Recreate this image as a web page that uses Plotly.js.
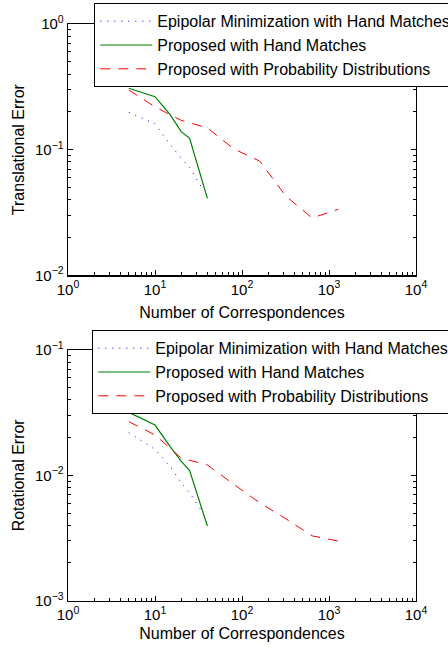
<!DOCTYPE html>
<html>
<head>
<meta charset="utf-8">
<script src="https://cdn.plot.ly/plotly-3.0.1.min.js"></script>
<style>
html,body{margin:0;padding:0;background:#fff;}
#chart{width:448px;height:647px;}
</style>
</head>
<body>
<div id="chart"></div>
<script>
// ---- data ----
var seriesNames = ["Epipolar Minimization with Hand Matches", "Proposed with Hand Matches", "Proposed with Probability Distributions"];

var epiX = [5, 10, 15, 20, 25, 35];
var handX = [5, 10, 15, 20, 25, 40];
var probX = [5, 10, 20, 40, 80, 160, 320, 640, 1280];

// Translational error
var transEpi  = [0.198, 0.161, 0.1095, 0.0853, 0.0723, 0.0489];
var transHand = [0.308, 0.264, 0.189, 0.139, 0.123, 0.041];
var transProb = [0.298, 0.219, 0.171, 0.149, 0.1016, 0.081, 0.0426, 0.0286, 0.0335];

// Rotational error
var rotEpi  = [0.0219, 0.01614, 0.01172, 0.00873, 0.00728, 0.0051];
var rotHand = [0.0318, 0.0252, 0.0169, 0.0130, 0.0109, 0.00394];
var rotProb = [0.0268, 0.0210, 0.01374, 0.01210, 0.00850, 0.00604, 0.00450, 0.00329, 0.00299];

var xTickVals = [1, 10, 100, 1000, 10000];
var xTickText = ["10<sup>0</sup>", "10<sup>1</sup>", "10<sup>2</sup>", "10<sup>3</sup>", "10<sup>4</sup>"];
var yTopTickVals = [0.01, 0.1, 1];
var yTopTickText = ["10<sup>−2</sup>", "10<sup>−1</sup>", "10<sup>0</sup>"];
var yBotTickVals = [0.001, 0.01, 0.1];
var yBotTickText = ["10<sup>−3</sup>", "10<sup>−2</sup>", "10<sup>−1</sup>"];

var xLabel = "Number of Correspondences";
var yTopLabel = "Translational Error";
var yBotLabel = "Rotational Error";

// ---- styles ----
var FONT = "Liberation Sans, Arial, Helvetica, sans-serif";
var lineStyles = [
  {color: "#0000ff", width: 1, dash: "1px,6px"},
  {color: "#008000", width: 1.2, dash: "solid"},
  {color: "#ff0000", width: 1, dash: "10px,8px"}
];

function tr(x, y, i, xa, ya, leg) {
  return {x: x, y: y, type: "scatter", mode: "lines", name: seriesNames[i],
          line: lineStyles[i], xaxis: xa, yaxis: ya, legend: leg, showlegend: true};
}

var data = [
  tr(epiX, transEpi, 0, "x", "y", "legend"),
  tr(handX, transHand, 1, "x", "y", "legend"),
  tr(probX, transProb, 2, "x", "y", "legend"),
  tr(epiX, rotEpi, 0, "x2", "y2", "legend2"),
  tr(handX, rotHand, 1, "x2", "y2", "legend2"),
  tr(probX, rotProb, 2, "x2", "y2", "legend2")
];

var W = 448, H = 647;
var xDom = [68 / W, 416 / W];
var yTopDom = [(H - 275.3) / H, (H - 24) / H];
var yBotDom = [(H - 600.7) / H, (H - 350) / H];

function xAxis(anchor, standoff) {
  return {type: "log", range: [0, 4], domain: xDom, anchor: anchor,
    tickmode: "array", tickvals: xTickVals, ticktext: xTickText,
    ticks: "inside", ticklen: 5, tickwidth: 1, tickcolor: "#000",
    minor: {ticks: "inside", ticklen: 3, tickcolor: "#000", dtick: "D1", showgrid: false},
    showline: true, linecolor: "#000", linewidth: 1.3, mirror: "ticks",
    showgrid: false, zeroline: false,
    tickfont: {family: FONT, size: 15, color: "#000"},
    title: {text: xLabel, font: {family: FONT, size: 16, color: "#000"}, standoff: standoff},
    automargin: false};
}
function yAxis(anchor, dom, rng, tv, tt, label) {
  return {type: "log", range: rng, domain: dom, anchor: anchor,
    tickmode: "array", tickvals: tv, ticktext: tt,
    ticks: "inside", ticklen: 5, tickwidth: 1, tickcolor: "#000",
    minor: {ticks: "inside", ticklen: 3, tickcolor: "#000", dtick: "D1", showgrid: false},
    showline: true, linecolor: "#000", linewidth: 1.3, mirror: "ticks",
    showgrid: false, zeroline: false,
    tickfont: {family: FONT, size: 15, color: "#000"},
    title: {text: label, font: {family: FONT, size: 16, color: "#000"}, standoff: 6},
    automargin: false};
}

var legendBase = {
  xref: "paper", yref: "paper", xanchor: "left", yanchor: "top",
  bgcolor: "#fff", bordercolor: "#000", borderwidth: 1.3,
  font: {family: FONT, size: 16, color: "#000"}, itemwidth: 52, tracegroupgap: 0
};

var layout = {
  width: W, height: H,
  margin: {l: 0, r: 0, t: 0, b: 0, autoexpand: false},
  paper_bgcolor: "#fff", plot_bgcolor: "#fff",
  showlegend: true,
  xaxis: xAxis("y", 10),
  yaxis: yAxis("x", yTopDom, [-2, 0], yTopTickVals, yTopTickText, yTopLabel),
  xaxis2: xAxis("y2", 5),
  yaxis2: yAxis("x2", yBotDom, [-3, -1], yBotTickVals, yBotTickText, yBotLabel),
  legend: Object.assign({}, legendBase, {x: 94 / W, y: (H - 3) / H}),
  legend2: Object.assign({}, legendBase, {x: 92 / W, y: (H - 330) / H})
};

Plotly.newPlot("chart", data, layout, {staticPlot: true, displayModeBar: false});
</script>
</body>
</html>
